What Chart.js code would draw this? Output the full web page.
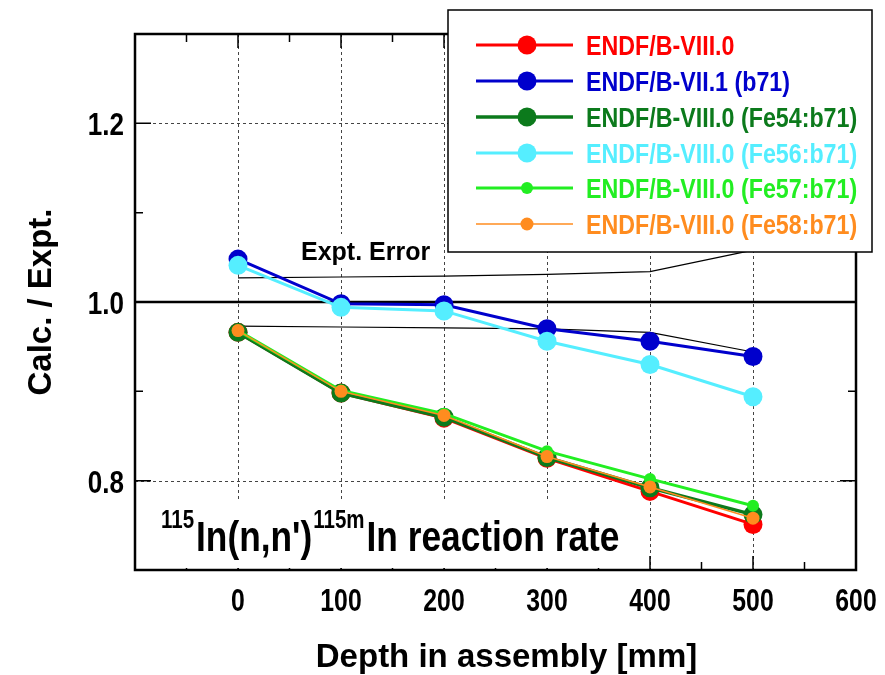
<!DOCTYPE html>
<html>
<head>
<meta charset="utf-8">
<script src="https://cdn.jsdelivr.net/npm/chart.js@4/dist/chart.umd.min.js"></script>
<style>
  html, body { margin: 0; padding: 0; background: #fff; }
  #wrap { width: 885px; height: 675px; position: relative; }
</style>
</head>
<body>
<div id="wrap"><canvas id="c" width="885" height="675"></canvas></div>
<script>
// depth positions [mm]
const depths = [0, 100, 200, 300, 400, 500];

// Calc./Expt. ratios per library
const endf80 = [0.966, 0.898, 0.870, 0.825, 0.788, 0.751];
const endf71 = [1.048, 0.998, 0.997, 0.970, 0.956, 0.939];
const fe54b71 = [0.966, 0.898, 0.871, 0.826, 0.792, 0.762];
const fe56b71 = [1.041, 0.994, 0.990, 0.956, 0.930, 0.894];
const fe57b71 = [0.968, 0.901, 0.875, 0.833, 0.802, 0.772];
const fe58b71 = [0.968, 0.900, 0.873, 0.827, 0.793, 0.758];

// experimental error band (1 +/- err)
const errUpper = [1.027, 1.028, 1.029, 1.031, 1.034, 1.058];
const errLower = [0.973, 0.972, 0.971, 0.970, 0.966, 0.944];

const seriesNames = [
    'ENDF/B-VIII.0',
    'ENDF/B-VII.1 (b71)',
    'ENDF/B-VIII.0 (Fe54:b71)',
    'ENDF/B-VIII.0 (Fe56:b71)',
    'ENDF/B-VIII.0 (Fe57:b71)',
    'ENDF/B-VIII.0 (Fe58:b71)'
];

const xTickLabels = [0, 100, 200, 300, 400, 500, 600];
const yTickLabels = [0.8, 1.0, 1.2];

const SANS = '"Liberation Sans", Arial, sans-serif';

function pts(ys) {
    return depths.map((d, i) => ({ x: d, y: ys[i] }));
}

function series(label, ys, color, width, radius, order) {
    return {
        label: label,
        data: pts(ys),
        borderColor: color,
        backgroundColor: color,
        borderWidth: width,
        pointRadius: radius,
        pointHoverRadius: radius,
        pointBorderWidth: 0,
        order: order,
        inLegend: true
    };
}

function errLine(ys) {
    return {
        label: 'err',
        data: pts(ys),
        borderColor: '#000',
        borderWidth: 1.2,
        pointRadius: 0,
        order: 20,
        inLegend: false
    };
}

const datasets = [
    series(seriesNames[0], endf80, '#ff0000', 3, 9.5, 6),
    series(seriesNames[1], endf71, '#0000cc', 3, 9.5, 5),
    series(seriesNames[2], fe54b71, '#0c7a1c', 3.5, 9.5, 4),
    series(seriesNames[3], fe56b71, '#55eeff', 3, 9.5, 3),
    series(seriesNames[4], fe57b71, '#22ee22', 3, 6, 2),
    series(seriesNames[5], fe58b71, '#ff8c1f', 1.5, 6.5, 1),
    errLine(errUpper),
    errLine(errLower)
];

// condensed bold text (no narrow face installed, so squeeze horizontally)
function narrowText(ctx, text, x, y, size, sx, align, rot) {
    ctx.save();
    ctx.translate(x, y);
    if (rot) ctx.rotate(rot);
    ctx.scale(sx, 1);
    ctx.font = 'bold ' + size + 'px ' + SANS;
    ctx.textAlign = align || 'left';
    ctx.textBaseline = 'alphabetic';
    ctx.fillText(text, 0, 0);
    const w = ctx.measureText(text).width * sx;
    ctx.restore();
    return w;
}

// frame, grid, inside ticks and annotations
const framePlugin = {
    id: 'frame',
    beforeDatasetsDraw(chart) {
        const ctx = chart.ctx;
        const a = chart.chartArea;
        const xs = chart.scales.x;
        const ys = chart.scales.y;
        ctx.save();

        // dotted grid
        ctx.strokeStyle = '#444';
        ctx.lineWidth = 1;
        ctx.setLineDash([3, 3]);
        depths.forEach(d => {
            const px = Math.round(xs.getPixelForValue(d)) + 0.5;
            ctx.beginPath();
            ctx.moveTo(px, a.top);
            ctx.lineTo(px, a.bottom);
            ctx.stroke();
        });
        [0.8, 1.2].forEach(v => {
            const py = Math.round(ys.getPixelForValue(v)) + 0.5;
            ctx.beginPath();
            ctx.moveTo(a.left, py);
            ctx.lineTo(a.right, py);
            ctx.stroke();
        });
        ctx.setLineDash([]);

        // inside ticks
        ctx.strokeStyle = '#000';
        ctx.lineWidth = 1.5;
        for (let v = -50; v < 600; v += 50) {
            const px = xs.getPixelForValue(v);
            const len = v % 100 === 0 ? 14 : 8;
            ctx.beginPath();
            ctx.moveTo(px, a.top); ctx.lineTo(px, a.top + len);
            ctx.moveTo(px, a.bottom); ctx.lineTo(px, a.bottom - len);
            ctx.stroke();
        }
        [0.8, 0.9, 1.1, 1.2].forEach(v => {
            const py = ys.getPixelForValue(v);
            const len = Math.round(v * 10) % 2 === 0 ? 16 : 8;
            ctx.beginPath();
            ctx.moveTo(a.left, py); ctx.lineTo(a.left + len, py);
            ctx.moveTo(a.right, py); ctx.lineTo(a.right - len, py);
            ctx.stroke();
        });

        // unity line
        const p1 = ys.getPixelForValue(1.0);
        ctx.lineWidth = 2.5;
        ctx.beginPath();
        ctx.moveTo(a.left, p1);
        ctx.lineTo(a.right, p1);
        ctx.stroke();

        // text boxes
        ctx.fillStyle = '#fff';
        ctx.fillRect(298, 234, 140, 34);
        ctx.fillRect(152, 500, 470, 68);

        ctx.fillStyle = '#000';
        ctx.textBaseline = 'alphabetic';
        ctx.textAlign = 'left';
        ctx.font = 'bold 25px ' + SANS;
        ctx.fillText('Expt. Error', 301, 260);

        let x = 161;
        x += narrowText(ctx, '115', x, 528, 25, 0.82) + 2;
        x += narrowText(ctx, 'In(n,n\')', x, 551, 42, 0.84) + 1;
        x += narrowText(ctx, '115m', x, 528, 25, 0.82) + 2;
        narrowText(ctx, 'In reaction rate', x, 551, 42, 0.84);

        // tick labels
        ctx.fillStyle = '#000';
        xTickLabels.forEach(v => {
            narrowText(ctx, String(v), xs.getPixelForValue(v), 611, 31, 0.8, 'center');
        });
        yTickLabels.forEach(v => {
            narrowText(ctx, v.toFixed(1), a.left - 11, ys.getPixelForValue(v) + 12, 31, 0.84, 'right');
        });

        // axis titles
        ctx.font = 'bold 33px ' + SANS;
        ctx.textAlign = 'center';
        ctx.fillText('Depth in assembly [mm]', (a.left + a.right) / 2 + 11, 667);
        ctx.save();
        ctx.translate(51, (a.top + a.bottom) / 2);
        ctx.rotate(-Math.PI / 2);
        ctx.fillText('Calc. / Expt.', 0, 0);
        ctx.restore();

        // axes box
        ctx.lineWidth = 2.5;
        ctx.strokeRect(a.left, a.top, a.right - a.left, a.bottom - a.top);
        ctx.restore();
    },
    afterDraw(chart) {
        const ctx = chart.ctx;
        ctx.save();
        ctx.fillStyle = '#fff';
        ctx.fillRect(448, 10, 424, 242);
        ctx.strokeStyle = '#000';
        ctx.lineWidth = 1.5;
        ctx.strokeRect(448, 10, 424, 242);
        const rowY = [45, 81, 117, 153, 188, 224];
        let row = 0;
        chart.data.datasets.forEach(ds => {
            if (!ds.inLegend) return;
            const y = rowY[row++];
            ctx.strokeStyle = ds.borderColor;
            ctx.lineWidth = ds.borderWidth;
            ctx.beginPath();
            ctx.moveTo(476, y);
            ctx.lineTo(573, y);
            ctx.stroke();
            ctx.fillStyle = ds.backgroundColor;
            ctx.beginPath();
            ctx.arc(527, y, ds.pointRadius, 0, Math.PI * 2);
            ctx.fill();
            narrowText(ctx, ds.label, 586, y + 10, 28, 0.83);
        });
        ctx.restore();
    }
};

new Chart(document.getElementById('c').getContext('2d'), {
    type: 'line',
    data: { datasets: datasets },
    options: {
        responsive: false,
        animation: false,
        events: [],
        layout: { padding: { top: 34, right: 29, left: 0, bottom: 0 } },
        plugins: { legend: { display: false }, tooltip: { enabled: false } },
        scales: {
            x: {
                type: 'linear',
                min: -100,
                max: 600,
                afterFit: s => { s.height = 105; },
                ticks: { display: false, stepSize: 100 },
                grid: { display: false },
                border: { display: false }
            },
            y: {
                min: 0.7,
                max: 1.3,
                afterFit: s => { s.width = 135; },
                ticks: { display: false, stepSize: 0.1 },
                grid: { display: false },
                border: { display: false }
            }
        }
    },
    plugins: [framePlugin]
});
</script>
</body>
</html>
